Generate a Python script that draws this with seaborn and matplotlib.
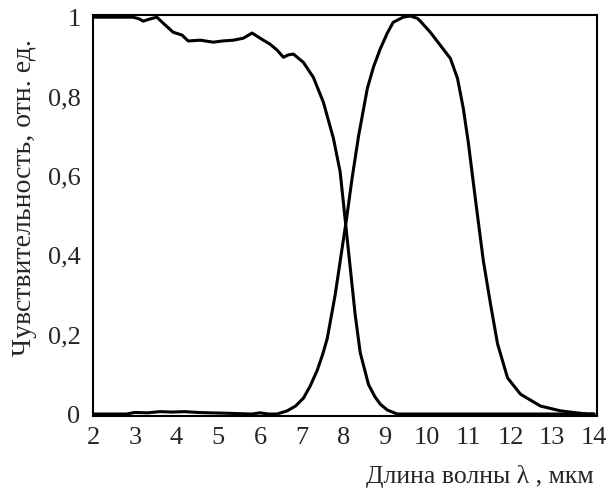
import pandas as pd
import numpy as np
import matplotlib
matplotlib.use('Agg')
import matplotlib.pyplot as plt
import seaborn as sns

# falling curve (short-wave band)
x_short = [2.0, 2.5, 2.96, 3.1, 3.2, 3.35, 3.53, 3.68, 3.92, 4.13, 4.28, 4.57, 4.88, 5.1, 5.36, 5.6,
           5.81, 6.08, 6.24, 6.41, 6.56, 6.68, 6.8, 7.04, 7.28, 7.52, 7.76, 7.92, 8.04,
           8.16, 8.28, 8.4, 8.6, 8.75, 8.88, 9.05, 9.29, 10.0, 11.0, 12.0, 13.0, 14.0]
y_short = [1.0, 1.0, 1.0, 0.996, 0.99, 0.995, 1.0, 0.985, 0.962, 0.955, 0.94, 0.942, 0.937, 0.94, 0.942, 0.947,
           0.96, 0.942, 0.932, 0.917, 0.899, 0.905, 0.907, 0.886, 0.848, 0.785, 0.694, 0.61, 0.49,
           0.37, 0.25, 0.155, 0.074, 0.044, 0.025, 0.01, 0.0, 0.0, 0.0, 0.0, 0.0, 0.0]

# bell curve (long-wave band)
x_long = [2.0, 2.8, 3.0, 3.3, 3.6, 3.9, 4.2, 4.5, 4.8, 5.2, 5.8, 6.0, 6.2, 6.41, 6.65, 6.85, 7.04, 7.2,
          7.37, 7.5, 7.61, 7.8, 7.97, 8.07, 8.2, 8.36, 8.57, 8.72, 8.88, 9.05, 9.19, 9.43, 9.6,
          9.77, 9.84, 10.08, 10.32, 10.56, 10.73, 10.87, 10.99, 11.11, 11.21, 11.35, 11.52, 11.69,
          11.93, 12.24, 12.72, 13.2, 13.5, 13.85, 14.0]
y_long = [0.0, 0.0, 0.004, 0.003, 0.006, 0.005, 0.006, 0.004, 0.003, 0.002, 0.0, 0.003, 0.0, 0.0, 0.008, 0.02, 0.04, 0.07,
          0.11, 0.15, 0.19, 0.30, 0.42, 0.49, 0.59, 0.70, 0.82, 0.875, 0.92, 0.96, 0.987, 1.0, 1.003,
          0.997, 0.99, 0.962, 0.929, 0.896, 0.846, 0.77, 0.684, 0.583, 0.50, 0.386, 0.278, 0.177,
          0.091, 0.05, 0.02, 0.008, 0.004, 0.0, 0.0]

x_ticks = list(range(2, 15))
y_ticks = [0, 0.2, 0.4, 0.6, 0.8, 1.0]
y_tick_labels = ['0', '0,2', '0,4', '0,6', '0,8', '1']

df = pd.concat([
    pd.DataFrame({'x': x_short, 'y': y_short, 'band': 'short'}),
    pd.DataFrame({'x': x_long, 'y': y_long, 'band': 'long'}),
])

sns.set_style('white')
plt.rcParams['font.family'] = ['Liberation Serif', 'DejaVu Serif']

fig, ax = plt.subplots(figsize=(6.16, 4.9), dpi=100)
fig.subplots_adjust(left=0.151, right=0.969, top=0.969, bottom=0.151)

sns.lineplot(data=df, x='x', y='y', units='band', estimator=None, sort=False,
             color='black', linewidth=2.2, ax=ax, legend=False)

ax.set_xlim(2, 14.07)
ax.set_ylim(-0.005, 1.005)
ax.set_xticks(x_ticks)
ax.set_xticklabels([str(t) for t in x_ticks])
ax.set_yticks(y_ticks)
ax.set_yticklabels(y_tick_labels)
ax.tick_params(length=0, labelsize=19)
ax.tick_params(axis='y', pad=9)
ax.tick_params(axis='x', pad=8)
for s in ax.spines.values():
    s.set_color('black')
    s.set_linewidth(1.5)

ax.set_xlabel('Длина волны λ , мкм', fontsize=18.5, ha='right', va='center')
ax.xaxis.set_label_coords(0.994, -0.15)
ax.set_ylabel('Чувствительность, отн. ед.', fontsize=20, va='center')
ax.yaxis.set_label_coords(-0.135, 0.546)

fig.savefig('out.png', dpi=100)
